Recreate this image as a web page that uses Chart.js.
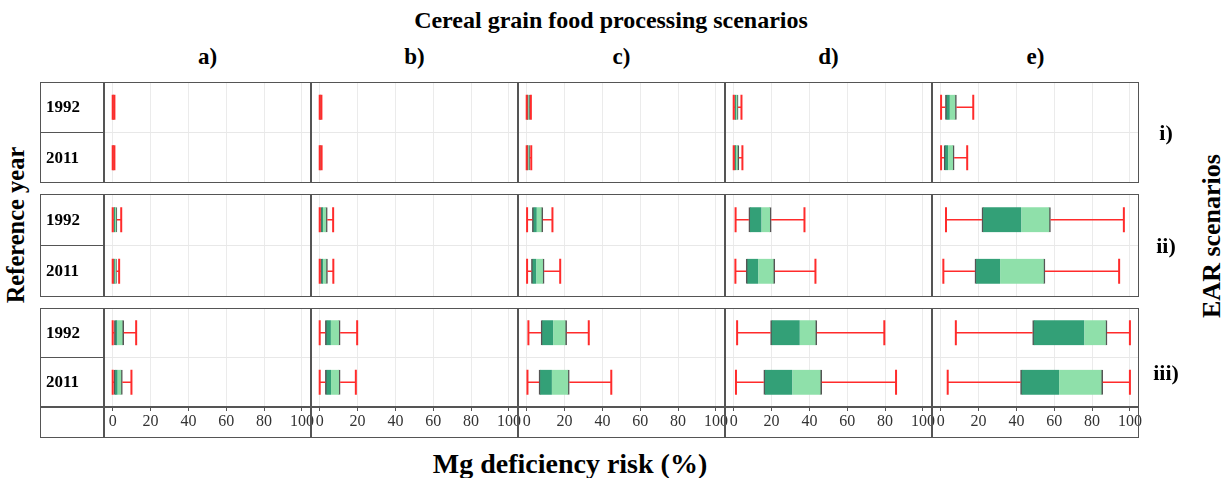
<!DOCTYPE html>
<html>
<head>
<meta charset="utf-8">
<script src="https://cdn.jsdelivr.net/npm/chart.js@4.4.1/dist/chart.umd.min.js"></script>
<style>
  body { margin: 0; background: #fff; }
  #fig { position: relative; width: 1231px; height: 478px; font-family: "Liberation Serif", "Times New Roman", serif; color: #000; }
  .t { position: absolute; font-weight: bold; white-space: nowrap; transform: translate(-50%, -50%); }
  .yr { position: absolute; font-weight: bold; font-size: 17px; transform: translateY(-50%); }
  .rot { transform: translate(-50%, -50%) rotate(-90deg); }
  .frame { position: absolute; border: 1.5px solid #555; box-sizing: border-box; }
  .ln { position: absolute; background: #555; }
  canvas { position: absolute; }
</style>
</head>
<body>
<div id="fig"></div>
<script>
const processing = ['a)', 'b)', 'c)', 'd)', 'e)'];
const earScenarios = ['i)', 'ii)', 'iii)'];
const years = ['1992', '2011'];
const xTicks = [0, 20, 40, 60, 80, 100];

// [min, q1, median, q3, max] for processing scenarios a) .. e)
const earI_1992 = [[0, 0.1, 0.3, 0.6, 0.9], [0, 0.1, 0.3, 0.6, 0.9], [0, 0.3, 0.9, 1.6, 2.2], [0, 0.5, 1.2, 2.3, 4.1], [0.2, 2.5, 4.8, 8.3, 17.2]];
const earI_2011 = [[0, 0.1, 0.3, 0.6, 0.9], [0, 0.1, 0.3, 0.6, 1.0], [0, 0.3, 0.9, 1.6, 2.4], [0, 0.4, 1.2, 2.7, 4.6], [0.2, 1.8, 3.9, 7.1, 14.0]];
const earII_1992 = [[0, 0.5, 1.2, 2.2, 4.5], [0, 0.5, 1.8, 4.0, 7.1], [0.2, 3.0, 5.3, 8.5, 13.6], [1.0, 8.0, 14.7, 19.8, 37.4], [2.8, 21.8, 42.6, 58.0, 96.8]];
const earII_2011 = [[0, 0.4, 1.1, 2.0, 3.4], [0, 0.5, 1.9, 4.1, 7.2], [0.2, 2.5, 5.1, 9.2, 17.7], [0.9, 6.6, 13.0, 21.7, 43.2], [1.4, 18.1, 31.4, 55.1, 94.3]];
const earIII_1992 = [[0, 0.9, 2.5, 5.8, 12.4], [0, 3.0, 5.9, 10.8, 19.8], [0.9, 7.6, 14.0, 21.1, 32.8], [1.8, 19.5, 34.9, 43.9, 79.6], [8.0, 48.6, 75.9, 87.9, 100]];
const earIII_2011 = [[0, 0.7, 2.6, 5.1, 9.9], [0, 3.0, 6.0, 10.8, 19.1], [0.4, 6.5, 13.3, 22.5, 44.7], [1.2, 15.9, 31.0, 46.5, 85.8], [3.7, 42.2, 62.6, 85.6, 100]];

const rows = [[earI_1992, earI_2011], [earII_1992, earII_2011], [earIII_1992, earIII_2011]];

const RED = '#ff2b2b', DARK = '#33a077', LIGHT = '#8fe0aa', EDGE = '#555';
const LEFT = 40, LAB = 104, PW = 207, RIGHT = LAB + 5 * PW;
const rowTop = [82, 194, 308], rowH = [101, 103, 99], AXH = 31;

const fig = document.getElementById('fig');

function el(cls, css, text) {
  const d = document.createElement('div');
  d.className = cls;
  Object.assign(d.style, css);
  if (text) d.textContent = text;
  fig.appendChild(d);
  return d;
}

function makePanel(canvas, stats, showAxis) {
  const datasets = [];
  stats.forEach((s, i) => {
    datasets.push({
      type: 'line', indexAxis: 'y',
      data: [{ x: s[0], y: years[i] }, { x: s[1], y: years[i] }, { x: null, y: years[i] }, { x: s[3], y: years[i] }, { x: s[4], y: years[i] }],
      borderColor: RED, borderWidth: 1.5, spanGaps: false,
      pointStyle: 'line', pointRotation: 90, pointRadius: [12.5, 0, 0, 0, 12.5],
      pointBorderColor: RED, pointBackgroundColor: RED, pointBorderWidth: 2
    });
  });
  datasets.push({
    type: 'bar', data: stats.map(s => [s[1], s[2]]),
    backgroundColor: DARK, borderColor: EDGE, borderSkipped: false,
    borderWidth: { left: 1.5, right: 0, top: 0, bottom: 0 },
    barThickness: 25, grouped: false
  });
  datasets.push({
    type: 'bar', data: stats.map(s => [s[2], s[3]]),
    backgroundColor: LIGHT, borderColor: EDGE, borderSkipped: false,
    borderWidth: { left: 0, right: 1.5, top: 0, bottom: 0 },
    barThickness: 25, grouped: false
  });

  new Chart(canvas.getContext('2d'), {
    type: 'bar',
    data: { labels: years, datasets: datasets },
    options: {
      animation: false, responsive: false, indexAxis: 'y', events: [],
      layout: { autoPadding: false, padding: { left: 0, top: 0, bottom: 0, right: showAxis ? 8 : 0 } },
      plugins: { legend: { display: false }, tooltip: { enabled: false } },
      scales: {
        x: {
          type: 'linear', min: -4.6, max: 104.8,
          afterBuildTicks: s => { s.ticks = xTicks.map(v => ({ value: v })); },
          afterFit: s => { s.height = showAxis ? AXH : 0; },
          grid: { color: '#ebebeb', drawTicks: showAxis, tickLength: 4, tickColor: EDGE },
          border: { display: false },
          ticks: {
            display: showAxis, padding: 1, color: '#333', maxRotation: 0, autoSkip: false,
            font: { family: 'Liberation Serif', size: 16 },
            callback: v => String(v)
          }
        },
        y: {
          type: 'category', offset: true,
          afterFit: s => { s.width = 0; },
          grid: { offset: true, color: '#e8e8e8', drawTicks: false },
          border: { display: false },
          ticks: { display: false }
        }
      }
    }
  });
}

// panels
rows.forEach((pair, r) => {
  const showAxis = r === 2;
  processing.forEach((p, c) => {
    const cv = document.createElement('canvas');
    const w = PW + (showAxis ? 8 : 0);
    const h = rowH[r] + (showAxis ? AXH : 0);
    cv.width = w; cv.height = h;
    cv.style.left = (LAB + PW * c) + 'px';
    cv.style.top = rowTop[r] + 'px';
    fig.appendChild(cv);
    makePanel(cv, [pair[0][c], pair[1][c]], showAxis);
  });
});

// frames and separators
rows.forEach((pair, r) => {
  const h = rowH[r] + (r === 2 ? AXH : 0);
  el('frame', { left: LEFT + 'px', top: rowTop[r] + 'px', width: (RIGHT - LEFT) + 'px', height: h + 'px' });
  for (let k = 0; k < 5; k++) {
    el('ln', { left: (LAB + PW * k - 0.75) + 'px', top: rowTop[r] + 'px', width: '1.5px', height: h + 'px' });
  }
  el('ln', { left: LEFT + 'px', top: (rowTop[r] + rowH[r] / 2 - 0.75) + 'px', width: (LAB - LEFT) + 'px', height: '1.5px' });
  if (r === 2) {
    el('ln', { left: LEFT + 'px', top: (rowTop[r] + rowH[r] - 0.75) + 'px', width: (RIGHT - LEFT) + 'px', height: '1.5px' });
  }
  years.forEach((y, i) => {
    el('yr', { left: '46px', top: (rowTop[r] + rowH[r] * (i === 0 ? 0.25 : 0.75)) + 'px' }, y);
  });
});

// texts
el('t', { left: '611px', top: '20px', fontSize: '24px' }, 'Cereal grain food processing scenarios');
processing.forEach((p, c) => {
  el('t', { left: (LAB + PW * (c + 0.5)) + 'px', top: '57px', fontSize: '23px' }, p);
});
const earY = [132.5, 245.5, 373];
earScenarios.forEach((e, r) => {
  el('t', { left: '1166px', top: earY[r] + 'px', fontSize: '22px' }, e);
});
el('t rot', { left: '16px', top: '225px', fontSize: '24.5px' }, 'Reference year');
el('t rot', { left: '1212px', top: '236px', fontSize: '26px' }, 'EAR scenarios');
el('t', { left: '570px', top: '464px', fontSize: '28px' }, 'Mg deficiency risk (%)');
</script>
</body>
</html>
